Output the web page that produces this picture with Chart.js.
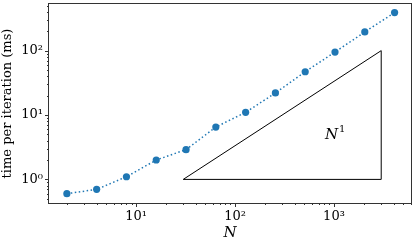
<!DOCTYPE html>
<html>
<head>
<meta charset="utf-8">
<script src="https://cdn.jsdelivr.net/npm/chart.js@4"></script>
<style>
	html, body { margin: 0; padding: 0; background: #fff; }
	#wrap { width: 415px; height: 242px; }
</style>
</head>
<body>
<div id="wrap"><canvas id="timingChart"></canvas></div>
<script>
// 측정 데이터 (N, 반복당 시간)
const nValues = [2, 4, 8, 16, 32, 64, 128, 256, 512, 1024, 2048, 4096];
const timeMs = [0.6, 0.7, 1.1, 2.0, 2.9, 6.5, 11, 22, 47, 95, 195, 390];

// 기울기 삼각형 (N^1)
const slopeN = [30, 3000, 3000, 30];
const slopeT = [1, 1, 100, 1];
const slopeLabel = { n: 1000, t: 5.1, base: 'N', exp: '1' };

// 축 범위와 눈금 라벨
const xRange = [1.32, 6000];
const yRange = [0.43, 530];
const xDecades = [1, 2, 3];
const yDecades = [0, 1, 2];
const supDigits = { '0': '⁰', '1': '¹', '2': '²', '3': '³', '-': '⁻' };

const serif = '"DejaVu Serif", "Liberation Serif", serif';

function decadeLabel(value, decades) {
	const k = Math.round(Math.log10(value));
	if (Math.abs(Math.log10(value) - k) > 1e-9 || !decades.includes(k)) return '';
	return '10' + String(k).split('').map(c => supDigits[c]).join('');
}

// 1..9 x 10^k 눈금 위치 생성
function logTicks(scale) {
	const ticks = [];
	for (let k = Math.floor(Math.log10(scale.min)); k <= Math.ceil(Math.log10(scale.max)); k++) {
		for (let m = 1; m < 10; m++) {
			const v = m * Math.pow(10, k);
			if (v >= scale.min && v <= scale.max) ticks.push({ value: v, major: m === 1 });
		}
	}
	scale.ticks = ticks;
}

// 테두리, 눈금 표시, N^1 라벨 그리기
const framePlugin = {
	id: 'frame',
	afterDatasetsDraw(chart) {
		const ctx = chart.ctx;
		const area = chart.chartArea;
		const xs = chart.scales.x;
		const ys = chart.scales.y;
		ctx.save();
		ctx.strokeStyle = '#333';
		ctx.lineWidth = 1;
		ctx.strokeRect(area.left - 0.5, area.top - 0.5, area.right - area.left + 1, area.bottom - area.top + 1);

		ctx.beginPath();
		xs.ticks.forEach(t => {
			const px = Math.round(xs.getPixelForValue(t.value)) + 0.5;
			const len = t.major ? 4 : 2;
			ctx.moveTo(px, area.bottom);
			ctx.lineTo(px, area.bottom + len);
		});
		ys.ticks.forEach(t => {
			const py = Math.round(ys.getPixelForValue(t.value)) + 0.5;
			const len = t.major ? 4 : 2;
			ctx.moveTo(area.left, py);
			ctx.lineTo(area.left - len, py);
		});
		ctx.stroke();

		const lx = xs.getPixelForValue(slopeLabel.n);
		const ly = ys.getPixelForValue(slopeLabel.t);
		ctx.fillStyle = '#000';
		ctx.textBaseline = 'middle';
		ctx.font = 'italic 15px ' + serif;
		const w = ctx.measureText(slopeLabel.base).width;
		ctx.textAlign = 'left';
		ctx.fillText(slopeLabel.base, lx - 9, ly + 1);
		ctx.font = '10px ' + serif;
		ctx.fillText(slopeLabel.exp, lx - 9 + w + 1, ly - 4);
		ctx.restore();
	}
};

new Chart(document.getElementById('timingChart'), {
	type: 'line',
	data: {
		datasets: [
			{
				label: 'time',
				data: nValues.map((n, i) => ({ x: n, y: timeMs[i] })),
				borderColor: '#1f77b4',
				backgroundColor: '#1f77b4',
				borderWidth: 1.5,
				borderDash: [1.5, 2.5],
				pointRadius: 3.6,
				pointBorderWidth: 0,
				tension: 0
			},
			{
				label: 'slope',
				data: slopeN.map((n, i) => ({ x: n, y: slopeT[i] })),
				borderColor: '#000',
				borderWidth: 1,
				pointRadius: 0,
				tension: 0
			}
		]
	},
	options: {
		responsive: true,
		maintainAspectRatio: false,
		animation: false,
		layout: { padding: { top: 2, right: 4, left: 0, bottom: 0 } },
		plugins: {
			legend: { display: false },
			tooltip: { enabled: false }
		},
		scales: {
			x: {
				type: 'logarithmic',
				min: xRange[0],
				max: xRange[1],
				afterBuildTicks: logTicks,
				afterFit: scale => {
					scale.height = 39;
					scale.paddingLeft = 0;
					scale.paddingRight = 0;
				},
				grid: { display: false, drawTicks: false },
				border: { display: false },
				ticks: {
					autoSkip: false,
					maxRotation: 0,
					padding: 6,
					color: '#000',
					font: { family: serif, size: 13 },
					callback: v => decadeLabel(v, xDecades)
				},
				title: {
					display: true,
					text: 'N',
					color: '#000',
					padding: { top: 0, bottom: 0 },
					font: { family: serif, size: 15, style: 'italic' }
				}
			},
			y: {
				type: 'logarithmic',
				min: yRange[0],
				max: yRange[1],
				afterBuildTicks: logTicks,
				afterFit: scale => {
					scale.width = 49;
					scale.paddingTop = 0;
					scale.paddingBottom = 0;
				},
				grid: { display: false, drawTicks: false },
				border: { display: false },
				ticks: {
					autoSkip: false,
					padding: 6,
					color: '#000',
					font: { family: serif, size: 13 },
					callback: v => decadeLabel(v, yDecades)
				},
				title: {
					display: true,
					text: 'time per iteration (ms)',
					color: '#000',
					padding: { top: 0, bottom: 1 },
					font: { family: serif, size: 13 }
				}
			}
		}
	},
	plugins: [framePlugin]
});
</script>
</body>
</html>
